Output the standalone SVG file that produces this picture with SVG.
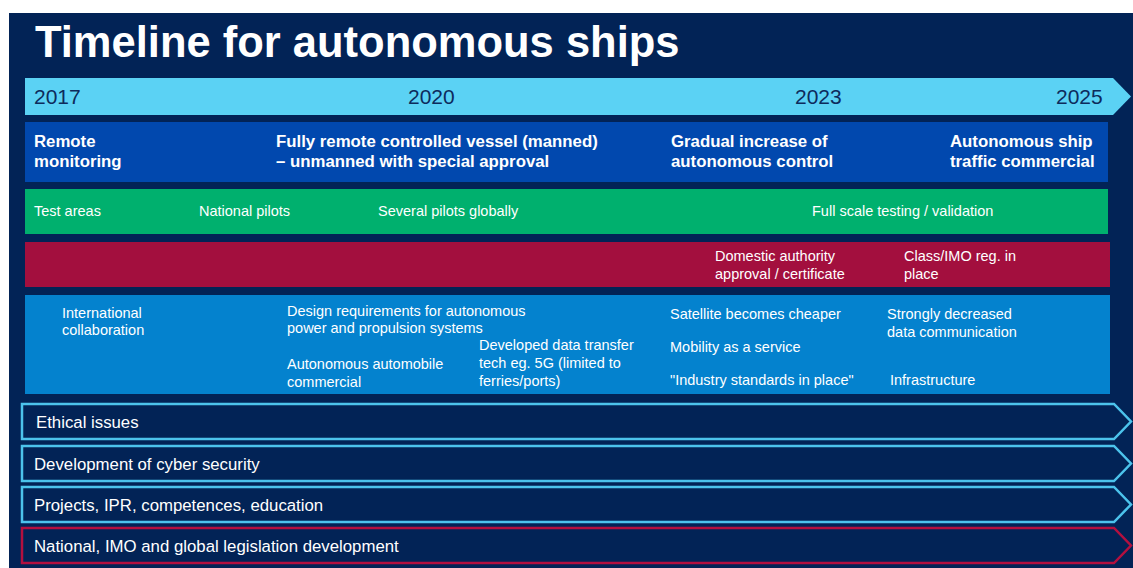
<svg xmlns="http://www.w3.org/2000/svg" width="1133" height="568" viewBox="0 0 1133 568">
<style>
text{font-family:"Liberation Sans",Arial,sans-serif;fill:#fff}
.title{font-size:43.5px;font-weight:bold}
.year{font-size:21px;fill:#0d2b5c}
.bold{font-size:16.8px;font-weight:bold}
.t{font-size:14.5px}
.lane{font-size:16.8px}
.chev{fill:#022356;stroke-width:2.5}
.cb{stroke:#4cc3ec}
.cr{stroke:#b3103f}
</style>
<rect x="0" y="0" width="1133" height="568" fill="#fff"/>
<rect x="9" y="13" width="1124" height="555" fill="#022356"/>
<text class="title" x="35" y="57">Timeline for autonomous ships</text>
<g id="timeline">
<path d="M25,78 H1113 L1131,96.5 L1113,115 H25 Z" fill="#5bd2f4"/>
<text class="year" x="34" y="104">2017</text>
<text class="year" x="408" y="104">2020</text>
<text class="year" x="795" y="104">2023</text>
<text class="year" x="1056" y="104">2025</text>
</g>
<g id="milestones">
<rect x="25" y="122" width="1083" height="60" fill="#0148ae"/>
<text class="bold" x="34" y="147">Remote</text>
<text class="bold" x="34" y="167">monitoring</text>
<text class="bold" x="276" y="147">Fully remote controlled vessel (manned)</text>
<text class="bold" x="276" y="167">– unmanned with special approval</text>
<text class="bold" x="671" y="147">Gradual increase of</text>
<text class="bold" x="671" y="167">autonomous control</text>
<text class="bold" x="950" y="147">Autonomous ship</text>
<text class="bold" x="950" y="167">traffic commercial</text>
</g>
<g id="testing">
<rect x="25" y="189" width="1083" height="45" fill="#00b06e"/>
<text class="t" x="34" y="216">Test areas</text>
<text class="t" x="199" y="216">National pilots</text>
<text class="t" x="378" y="216">Several pilots globally</text>
<text class="t" x="812" y="216">Full scale testing / validation</text>
</g>
<g id="regulation">
<rect x="25" y="242" width="1085" height="45" fill="#a30f3e"/>
<text class="t" x="715" y="261">Domestic authority</text>
<text class="t" x="715" y="279">approval / certificate</text>
<text class="t" x="904" y="261">Class/IMO reg. in</text>
<text class="t" x="904" y="279">place</text>
</g>
<g id="enablers">
<rect x="25" y="295" width="1085" height="99" fill="#0482ce"/>
<text class="t" x="62" y="318">International</text>
<text class="t" x="62" y="335">collaboration</text>
<text class="t" x="287" y="316">Design requirements for autonomous</text>
<text class="t" x="287" y="333">power and propulsion systems</text>
<text class="t" x="287" y="369">Autonomous automobile</text>
<text class="t" x="287" y="387">commercial</text>
<text class="t" x="479" y="350">Developed data transfer</text>
<text class="t" x="479" y="368">tech eg. 5G (limited to</text>
<text class="t" x="479" y="386">ferries/ports)</text>
<text class="t" x="670" y="319">Satellite becomes cheaper</text>
<text class="t" x="670" y="352">Mobility as a service</text>
<text class="t" x="670" y="385">"Industry standards in place"</text>
<text class="t" x="887" y="319">Strongly decreased</text>
<text class="t" x="887" y="337">data communication</text>
<text class="t" x="890" y="385">Infrastructure</text>
</g>
<g id="ethical">
<path class="chev cb" d="M22,404 H1114 L1131,421.5 L1114,439 H22 Z"/>
<text class="lane" x="36" y="428">Ethical issues</text>
</g>
<g id="cyber">
<path class="chev cb" d="M22,446 H1114 L1131,463.5 L1114,481 H22 Z"/>
<text class="lane" x="34" y="470">Development of cyber security</text>
</g>
<g id="projects">
<path class="chev cb" d="M22,487 H1114 L1131,504.5 L1114,522 H22 Z"/>
<text class="lane" x="34" y="511">Projects, IPR, competences, education</text>
</g>
<g id="legislation">
<path class="chev cr" d="M22,528 H1114 L1131,545.5 L1114,563 H22 Z"/>
<text class="lane" x="34" y="552">National, IMO and global legislation development</text>
</g>
<g id="connectors"/>
</svg>
